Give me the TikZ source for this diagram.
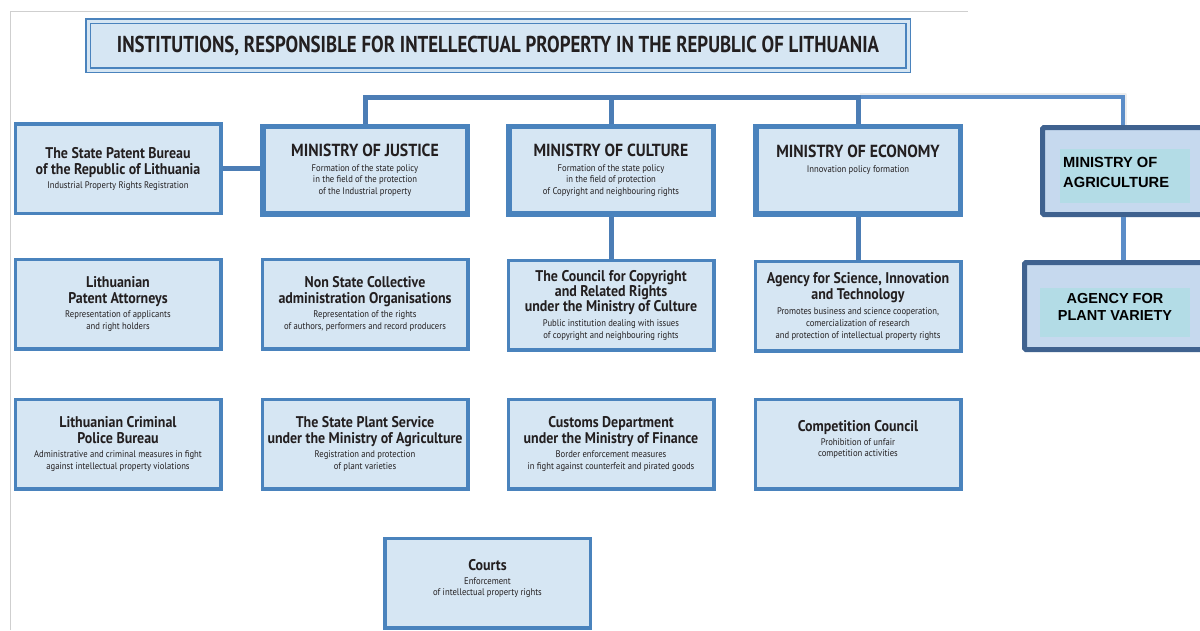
\documentclass[tikz,border=0pt]{standalone}
\usepackage{fontspec}
\newfontfamily\cf[FakeStretch=0.82]{PT Sans}
\newfontfamily\boxfont[FakeStretch=0.9]{PT Sans}
\newfontfamily\af{Liberation Sans}
\newcommand{\boxsetup}{\boxfont\fontsize{10}{12}\selectfont\lineskiplimit=-50pt\relax}
\definecolor{fc}{HTML}{D6E6F3}
\definecolor{bc}{HTML}{4A83BD}
\definecolor{busc}{HTML}{4C7DB5}
\definecolor{tbusc}{HTML}{5B8DC8}
\definecolor{tc}{HTML}{231F20}
\definecolor{agb}{HTML}{3F628F}
\definecolor{agf}{HTML}{C6D9EE}
\definecolor{agi}{HTML}{B3DCE6}
\definecolor{gr}{HTML}{CFCFCF}
\tikzset{
  box/.style={draw=bc, fill=fc, line width=3.5pt, minimum width=205.5pt, minimum height=89.5pt, inner sep=0pt, align=center, text=tc, font=\boxsetup},
  mbox/.style={box, line width=5.5pt, minimum width=204.5pt, minimum height=87.5pt},
  abox/.style={draw=agb, fill=agf, line width=5pt, inner sep=0pt, rounded corners=1.5pt},
  inbox/.style={fill=agi, inner sep=0pt},
  atext/.style={inner sep=0pt, font=\af\bfseries\fontsize{14.7}{20}\selectfont, text=black},
  bus/.style={draw=busc, line width=5pt},
  tbus/.style={draw=tbusc, line width=4pt},
}
\newcommand{\ttl}[1]{{\bfseries\fontsize{15.5}{17}\selectfont #1}}
\newcommand{\mtl}[1]{{\bfseries\fontsize{17.5}{19}\selectfont #1}}
\newcommand{\dsc}[1]{{\fontsize{9.6}{11}\selectfont #1}}
\begin{document}
\begin{tikzpicture}[x=1pt,y=-1pt]
\useasboundingbox (0,0) rectangle (1200,630);
\clip (0,0) rectangle (1200,630);
\fill[white] (0,0) rectangle (1200,630);
% frame lines
\draw[gr, line width=1pt] (10,630) -- (10,11) -- (968,11);
% title
\node[draw=bc, fill=fc, line width=1.5pt, double=fc, double distance=3pt, minimum width=820pt, minimum height=49pt, inner sep=0pt, font=\cf\bfseries\fontsize{23}{25}\selectfont, text=tc] (title) at (498,45.5) {INSTITUTIONS, RESPONSIBLE FOR INTELLECTUAL PROPERTY IN THE REPUBLIC OF LITHUANIA};
% row 1
\node[box] (spb) at (118,168.5) {\ttl{The State Patent Bureau}\\[4pt]\ttl{of the Republic of Lithuania}\\[2pt]\dsc{Industrial Property Rights Registration}};
\node[mbox] (just) at (365,170) {\mtl{MINISTRY OF JUSTICE}\\[3pt]\dsc{Formation of the state policy}\\[-0.5pt]\dsc{in the field of the protection}\\[-0.5pt]\dsc{of the Industrial property}};
\node[mbox] (cult) at (611,170) {\mtl{MINISTRY OF CULTURE}\\[3pt]\dsc{Formation of the state policy}\\[-0.5pt]\dsc{in the field of protection}\\[-0.5pt]\dsc{of Copyright and neighbouring rights}};
\node[mbox] (econ) at (858,170) {\mtl{MINISTRY OF ECONOMY}\\[3pt]\dsc{Innovation policy formation}\\[-0.5pt]\rule{0pt}{8pt}\\[-0.5pt]\rule{0pt}{8pt}};
\node[abox, minimum width=161pt, minimum height=87pt] (agri) at (1123,171) {};
\node[inbox, minimum width=130pt, minimum height=54pt] (agrii) at (1125,176) {};
\node[atext, anchor=base west, align=left] (agrit) at (1063,187) {MINISTRY OF\\AGRICULTURE};
% row 2
\node[box] (lpa) at (118,304) {\ttl{Lithuanian}\\[4pt]\ttl{Patent Attorneys}\\[2pt]\dsc{Representation of applicants}\\[-0.5pt]\dsc{and right holders}};
\node[box] (nsc) at (365,304) {\ttl{Non State Collective}\\[4pt]\ttl{administration Organisations}\\[2pt]\dsc{Representation of the rights}\\[-0.5pt]\dsc{of authors, performers and record producers}};
\node[box] (ccr) at (611,305) {\ttl{The Council for Copyright}\\[3pt]\ttl{and Related Rights}\\[3pt]\ttl{under the Ministry of Culture}\\[3pt]\dsc{Public institution dealing with issues}\\[0pt]\dsc{of copyright and neighbouring rights}};
\node[box] (asit) at (858,306) {\ttl{Agency for Science, Innovation}\\[4pt]\ttl{and Technology}\\[3pt]\dsc{Promotes business and science cooperation,}\\[0pt]\dsc{comercialization of research}\\[0pt]\dsc{and protection of intellectual property rights}};
\node[abox, minimum width=201pt, minimum height=87pt] (apv) at (1125,306) {};
\node[inbox, minimum width=150pt, minimum height=49pt] (apvi) at (1115,312.5) {};
\node[atext, align=center, font=\af\bfseries\fontsize{14.5}{17}\selectfont, anchor=base] (apvt) at (1115,320) {AGENCY FOR\\PLANT VARIETY};
% row 3
\node[box] (lcpb) at (118,444) {\ttl{Lithuanian Criminal}\\[4pt]\ttl{Police Bureau}\\[2pt]\dsc{Administrative and criminal measures in fight}\\[-0.5pt]\dsc{against intellectual property violations}};
\node[box] (sps) at (365,444) {\ttl{The State Plant Service}\\[4pt]\ttl{under the Ministry of Agriculture}\\[2pt]\dsc{Registration and protection}\\[-0.5pt]\dsc{of plant varieties}};
\node[box] (cd) at (611,444) {\ttl{Customs Department}\\[4pt]\ttl{under the Ministry of Finance}\\[2pt]\dsc{Border enforcement measures}\\[-0.5pt]\dsc{in fight against counterfeit and pirated goods}};
\node[box] (cc) at (858,444) {\ttl{Competition Council}\\[2pt]\dsc{Prohibition of unfair}\\[-0.5pt]\dsc{competition activities}\\[-0.5pt]\rule{0pt}{8pt}};
% courts
\node[box] (courts) at (487.5,583) {\ttl{Courts}\\[2pt]\dsc{Enforcement}\\[-0.5pt]\dsc{of intellectual property rights}\\[-0.5pt]\rule{0pt}{8pt}};
% connectors
\coordinate (busy) at (0,97);
\draw[gr!80!black, opacity=0.2, line width=4pt, line join=round] ([xshift=1.5pt,yshift=2.5pt]econ.north |- busy) -- ([xshift=1.5pt,yshift=2.5pt]agri.north |- busy) -- ([xshift=1.5pt]agri.north);
\draw[tbus] (econ.north |- busy) -- (agri.north |- busy) -- (agri.north);
\draw[bus] (just.north) -- (just.north |- busy) -- (econ.north |- busy) -- (econ.north);
\draw[bus] (cult.north) -- (cult.north |- busy);
\draw[bus] (spb.east) -- (just.west |- spb.east);
\draw[bus] (cult.south) -- (ccr.north);
\draw[bus] (econ.south) -- (asit.north);
\draw[tbus, line width=5pt] (agri.south) -- (agri.south |- apv.north);
\end{tikzpicture}
\end{document}
